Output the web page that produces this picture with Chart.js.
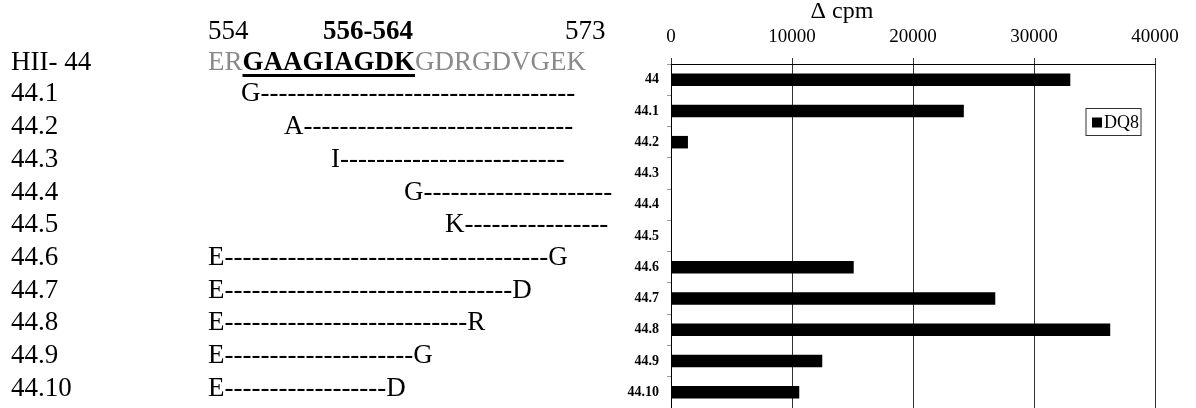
<!DOCTYPE html>
<html>
<head>
<meta charset="utf-8">
<script src="https://cdn.jsdelivr.net/npm/chart.js@4.4.1/dist/chart.umd.min.js"></script>
<style>
  html, body { margin: 0; padding: 0; background: #fff; }
  body {
    width: 1196px; height: 408px; overflow: hidden; position: relative;
    font-family: "Liberation Serif", "Times New Roman", serif;
  }
  #chart { position: absolute; left: 0; top: 0; }
  .t { position: absolute; font-size: 27px; line-height: 27px; white-space: pre; color: #000; }
  .grey { color: #8a8a8a; }
  .core { font-weight: bold; text-decoration: underline; text-decoration-thickness: 3px; text-underline-offset: 4px; }
  .b { font-weight: bold; }
</style>
</head>
<body>
<!-- canvas is a bit taller than the page so the plot runs off the bottom edge like the original -->
<canvas id="chart" width="1196" height="430"></canvas>
<div id="seq"></div>
<script>
// --- data ---
const categories = ["44", "44.1", "44.2", "44.3", "44.4", "44.5", "44.6", "44.7", "44.8", "44.9", "44.10"];
const dq8Values = [33000, 24200, 1400, 0, 0, 0, 15100, 26800, 36300, 12500, 10600];
const xTicks = [0, 10000, 20000, 30000, 40000];
const seriesLabel = "DQ8";
const axisTitle = "Δ cpm";

// left panel: peptide alignment
const headerNumbers = ["554", "556-564", "573"];
const parentName = "HII- 44";
const parentSeq = ["ER", "GAAGIAGDK", "GDRGDVGEK"];
const peptideNames = ["44.1", "44.2", "44.3", "44.4", "44.5", "44.6", "44.7", "44.8", "44.9", "44.10"];
const dash = (a, n, b) => a + "-".repeat(n) + (b || "");
const peptideSeqs = [
  dash("G", 35), dash("A", 30), dash("I", 25), dash("G", 21), dash("K", 16),
  dash("E", 36, "G"), dash("E", 32, "D"), dash("E", 27, "R"), dash("E", 21, "G"), dash("E", 18, "D")
];

// --- left panel layout ---
const seqBox = document.getElementById("seq");
function addText(html, left, baseline, cls) {
  const d = document.createElement("div");
  d.className = "t" + (cls ? " " + cls : "");
  d.style.left = left + "px";
  d.style.top = (baseline - 22.6) + "px";
  d.innerHTML = html;
  seqBox.appendChild(d);
  return d;
}
addText(headerNumbers[0], 208, 40);
addText(headerNumbers[1], 323, 40, "b");
addText(headerNumbers[2], 565, 40);
addText(parentName, 11, 71);
addText('<span class="grey">' + parentSeq[0] + '</span><span class="core">' + parentSeq[1] +
  '</span><span class="grey">' + parentSeq[2] + '</span>', 208, 71);

const seqLeft = [241, 284, 331, 404, 445, 208, 208, 208, 208, 208];
peptideNames.forEach((name, i) => {
  const base = 102 + i * 32.7;
  addText(name, 11, base);
  addText(peptideSeqs[i], seqLeft[i], base);
});

// --- chart ---
Chart.defaults.font.family = '"Liberation Serif", "Times New Roman", serif';
Chart.defaults.color = "#000";

// axis title and boxed legend inside the plot
const extras = {
  id: "extras",
  afterDraw(chart) {
    const { ctx, chartArea } = chart;
    ctx.save();
    ctx.fillStyle = "#000";
    ctx.font = '24px "Liberation Serif", serif';
    ctx.textAlign = "center";
    ctx.textBaseline = "middle";
    ctx.fillText(axisTitle, chartArea.left + 171, 12);

    const ds = chart.data.datasets[0];
    const bx = chartArea.right - 69, by = chartArea.top + 44.5;
    ctx.fillStyle = "#fff";
    ctx.fillRect(bx, by, 55, 27);
    ctx.strokeStyle = "#333";
    ctx.lineWidth = 1;
    ctx.strokeRect(bx, by, 55, 27);
    ctx.fillStyle = ds.backgroundColor;
    ctx.fillRect(bx + 6, by + 9, 10, 10);
    ctx.fillStyle = "#000";
    ctx.font = '18px "Liberation Serif", serif';
    ctx.textAlign = "left";
    ctx.fillText(ds.label, bx + 18, by + 14.5);
    ctx.restore();
  }
};

new Chart(document.getElementById("chart").getContext("2d"), {
  type: "bar",
  data: {
    labels: categories,
    datasets: [{
      label: seriesLabel,
      data: dq8Values,
      backgroundColor: "#000",
      barPercentage: 0.4,
      categoryPercentage: 1
    }]
  },
  options: {
    indexAxis: "y",
    responsive: false,
    animation: false,
    layout: { padding: { left: 600, right: 41, top: 0, bottom: 22 } },
    plugins: { legend: { display: false }, tooltip: { enabled: false } },
    scales: {
      x: {
        position: "top",
        min: xTicks[0],
        max: xTicks[xTicks.length - 1],
        afterBuildTicks: (s) => { s.ticks = xTicks.map((v) => ({ value: v })); },
        ticks: { font: { size: 19 }, padding: 10, callback: (v) => String(v) },
        grid: { color: "#333", tickLength: 6 },
        border: { color: "#000" },
        afterFit: (s) => { s.height = 64; }
      },
      y: {
        ticks: { font: { size: 14, weight: "bold" }, padding: 8 },
        grid: { drawOnChartArea: false, offset: true, tickLength: 4, color: "#999" },
        border: { color: "#000" },
        afterFit: (s) => { s.width = 71; }
      }
    }
  },
  plugins: [extras]
});
</script>
</body>
</html>
